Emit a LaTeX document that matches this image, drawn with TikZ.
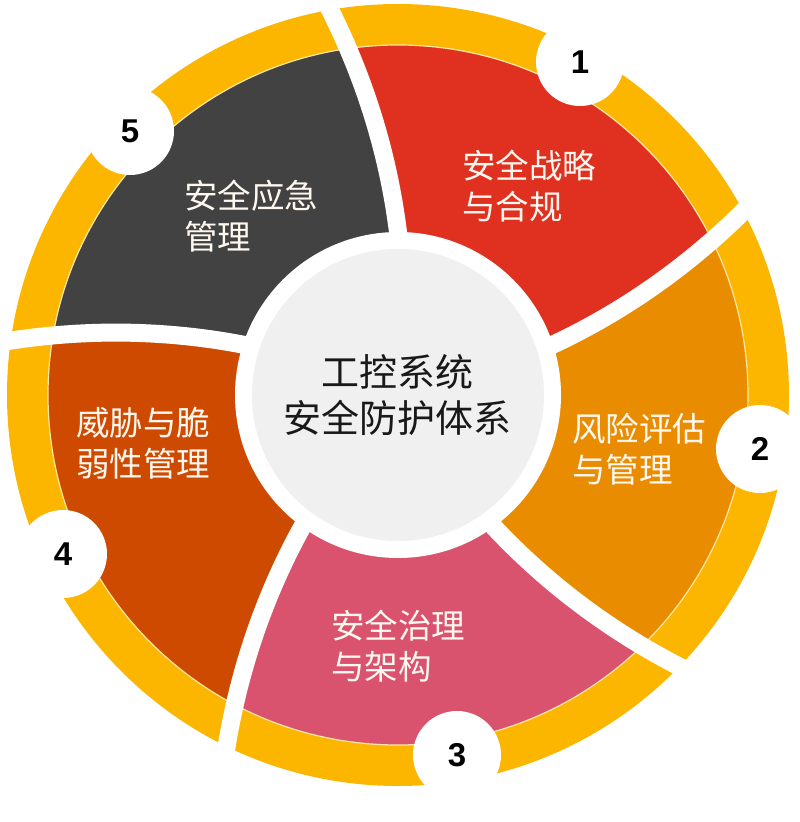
\documentclass[tikz,border=0pt]{standalone}
\usepackage{fontspec}
\newfontfamily\cjk{Noto Sans CJK SC}
\newfontfamily\numfont{Liberation Sans}
\definecolor{yel}{RGB}{253,182,0}
\definecolor{cA}{RGB}{224,49,32}
\definecolor{cB}{RGB}{234,140,0}
\definecolor{cC}{RGB}{217,83,110}
\definecolor{cD}{RGB}{205,74,0}
\definecolor{cE}{RGB}{66,66,66}
\definecolor{ctr}{RGB}{240,240,240}
\definecolor{cream}{RGB}{255,232,165}
\definecolor{txtw}{RGB}{255,248,240}
\begin{document}
\begin{tikzpicture}[x=1pt,y=1pt,
  numc/.style={circle, fill=white, minimum size=88pt, inner sep=0pt, font=\numfont\bfseries\fontsize{33}{33}\selectfont},
  lbl/.style={anchor=west, align=left, inner sep=0pt, text=txtw, font=\cjk\fontsize{33.5}{41}\selectfont},
  core/.style={circle, fill=ctr, minimum size=292pt, inner sep=0pt, align=center, text=black!90, font=\cjk\fontsize{38}{46}\selectfont}]
\useasboundingbox (-398,-427) rectangle (402,395);
\fill[yel] (0,0) circle (391);
\begin{scope}
\clip (0,0) circle (350);
\foreach \k/\col in {1/cA,2/cB,3/cC,4/cD,5/cE}{
  \pgfmathsetmacro\ta{90-72*(\k-1)}
  \pgfmathsetmacro\tb{90-72*\k}
  \fill[\col] (0,0) -- plot[domain=163:420,samples=25,variable=\q] ({\q*cos(\ta+10*(\q-163)/228)},{\q*sin(\ta+10*(\q-163)/228)})
    arc[start angle={\ta+10*257/228}, end angle={\tb+10*257/228}, radius=420]
    -- plot[domain=420:163,samples=25,variable=\q] ({\q*cos(\tb+10*(\q-163)/228)},{\q*sin(\tb+10*(\q-163)/228)}) -- cycle;
}
\end{scope}
\draw[cream, line width=1.2pt] (0,0) circle (350);
\foreach \k in {0,...,4}{
  \pgfmathsetmacro\ta{90-72*\k}
  \draw[white, line width=18pt] plot[domain=150:410,samples=30,variable=\q] ({\q*cos(\ta+10*(\q-163)/228)},{\q*sin(\ta+10*(\q-163)/228)});
}
\fill[white] (0,0) circle (163);
\node[core] (center) at (0,0) {工控系统\\安全防护体系};
\node[lbl] (l1) at (64,208.5) {安全战略\\与合规};
\node[lbl] (l2) at (174,-54) {风险评估\\与管理};
\node[lbl] (l3) at (-67,-251) {安全治理\\与架构};
\node[lbl] (l4) at (-322,-48.5) {威胁与脆\\弱性管理};
\node[lbl] (l5) at (-214,179) {安全应急\\管理};
\node[numc] (n1) at (182,333) {1};
\node[numc] (n2) at (362,-54) {2};
\node[numc] (n3) at (59,-360) {3};
\node[numc] (n4) at (-335,-159) {4};
\node[numc] (n5) at (-268,264) {5};
\end{tikzpicture}
\end{document}
